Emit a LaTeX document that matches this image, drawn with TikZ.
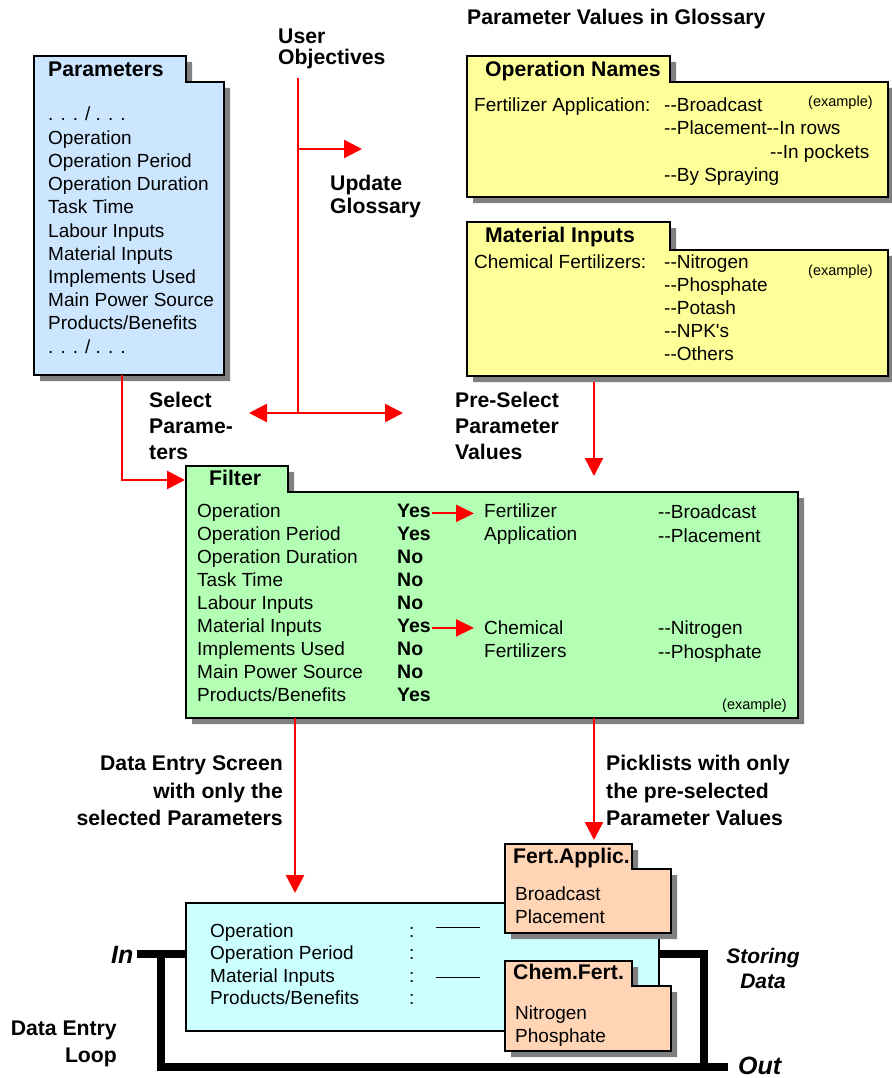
\documentclass[tikz,border=0pt]{standalone}
\usepackage{fontspec}
\setmainfont{Liberation Sans}
\usetikzlibrary{arrows.meta,calc}

\definecolor{parblue}{HTML}{CCE6FF}
\definecolor{glossyellow}{HTML}{FFFF99}
\definecolor{filtergreen}{HTML}{B3FFB3}
\definecolor{screencyan}{HTML}{CCFFFF}
\definecolor{pickpeach}{HTML}{FFD5B5}
\definecolor{shadowgray}{HTML}{808080}

\tikzset{
  txt/.style={font=\fontsize{19}{23}\selectfont, inner sep=0pt, anchor=base west},
  btxt/.style={font=\fontsize{21.2}{25}\selectfont\bfseries, inner sep=0pt, anchor=base west},
  ytxt/.style={font=\fontsize{19.5}{23}\selectfont\bfseries, inner sep=0pt, anchor=base west},
  smalltxt/.style={font=\fontsize{14.5}{17}\selectfont, inner sep=0pt, anchor=base west},
  iotxt/.style={font=\fontsize{25}{28}\selectfont\bfseries\itshape, inner sep=0pt, anchor=base west},
  redarrow/.style={draw=red, line width=2.5pt, -{Triangle[length=18pt,width=18pt]}},
  redline/.style={draw=red, line width=2.5pt},
  yesarrow/.style={draw=red, line width=2pt, -{Triangle[length=18pt,width=17pt]}},
  loopline/.style={draw=black, line width=8pt, line join=miter},
}

% double hyphen without the en-dash ligature
\newcommand\dd{-{}-}

% folder card: name, left, tab top, tab right, body top, body right, bottom, fill
\newcommand\foldercard[8]{%
  \fill[shadowgray] (#2+6,#3+6) -- (#4+6,#3+6) -- (#4+6,#5+6) -- (#6+6,#5+6)
     -- (#6+6,#7+6) -- (#2+6,#7+6) -- cycle;
  \filldraw[fill=#8, draw=black, line width=1.3pt] (#2,#3) -- (#4,#3) -- (#4,#5)
     -- (#6,#5) -- (#6,#7) -- (#2,#7) -- cycle;
  \node[inner sep=0pt, minimum width={#6-#2}, minimum height={#7-#3},
        anchor=north west] (#1) at (#2,#3) {};
}

\begin{document}
\begin{tikzpicture}[x=1pt,y=-1pt]
\useasboundingbox (0,0) rectangle (891,1078);

% ---------- connectors drawn first so the cards sit on top ----------
\coordinate (uotop) at (298,78);
\coordinate (uobranch) at (298,149);
\coordinate (uobot) at (298,413);
\coordinate (updtip) at (362,149);
\coordinate (selleft) at (249,413);
\coordinate (preright) at (403,413);
\coordinate (pvtip) at (594,476);
\coordinate (detip) at (295,893);
\coordinate (pltip) at (594,840);

\draw[redline] (uotop) -- (uobot);
\draw[redarrow] (uobranch) -- (updtip);
\draw[draw=red, line width=2.5pt, {Triangle[length=18pt,width=18pt]}-{Triangle[length=18pt,width=18pt]}]
  (selleft) -- (preright);

% ---------- glossary and parameter cards ----------
\foldercard{params}{34}{56}{186}{82}{224}{375}{parblue}
\foldercard{opnames}{467}{56}{670}{82}{888}{197}{glossyellow}
\foldercard{matin}{467}{222}{670}{250}{888}{376}{glossyellow}

\draw[redarrow] ($(params.south west)+(88,0)$) |- (185,480);
\draw[redarrow] ($(matin.south west)+(127,6)$) -- (pvtip);

\foldercard{filter}{186}{466}{288}{492}{798}{718}{filtergreen}

\draw[redarrow] ($(filter.south west)+(109,0)$) -- (detip);
\draw[redarrow] ($(filter.south west)+(408,0)$) -- (pltip);

% ---------- data entry loop ----------
\coordinate (inend) at (137,954);
\coordinate (outend) at (728,1067);
\draw[loopline] (inend) -- (186,954);
\draw[loopline] (161,954) |- (outend);
\draw[loopline] (657,954) -| (704,1067);

\node[draw=black, line width=2pt, fill=screencyan, inner sep=0pt, minimum width=473,
      minimum height=128, anchor=north west] (screen) at (185,902) {};

\foldercard{fert}{505}{844}{632}{869}{671}{933}{pickpeach}
\foldercard{chem}{505}{961}{632}{986}{671}{1051}{pickpeach}

% ---------- headings ----------
\node[btxt] (glosshead) at (467,25) {Parameter Values in Glossary};
\node[btxt] (uo1) at (278,44) {User};
\node[btxt] (uo2) at (278,65) {Objectives};
\node[btxt] (ug1) at (330,190) {Update};
\node[btxt] (ug2) at (330,213) {Glossary};
\node[btxt] (sp1) at (149,407) {Select};
\node[btxt] (sp2) at (149,433) {Parame-};
\node[btxt] (sp3) at (149,459) {ters};
\node[btxt] (pv1) at (455,407) {Pre-Select};
\node[btxt] (pv2) at (455,433) {Parameter};
\node[btxt] (pv3) at (455,459) {Values};
\node[btxt, anchor=base east] (de1) at (283,770) {Data Entry Screen};
\node[btxt, anchor=base east] (de2) at (283,798) {with only the};
\node[btxt, anchor=base east] (de3) at (283,825) {selected Parameters};
\node[btxt] (pk1) at (606,770) {Picklists with only};
\node[btxt] (pk2) at (606,798) {the pre-selected};
\node[btxt] (pk3) at (606,825) {Parameter Values};
\node[btxt, anchor=base east] (lp1) at (117,1035) {Data Entry};
\node[btxt, anchor=base east] (lp2) at (117,1062) {Loop};
\node[btxt, font=\fontsize{21}{25}\selectfont\bfseries\itshape, anchor=base] (sd1) at (763,963) {Storing};
\node[btxt, font=\fontsize{21}{25}\selectfont\bfseries\itshape, anchor=base] (sd2) at (763,988) {Data};
\node[iotxt] (intxt) at (111,963) {In};
\node[iotxt] (outtxt) at (738,1074) {Out};

% ---------- Parameters card ----------
\node[btxt] (partitle) at (48,77) {Parameters};
\foreach \t [count=\i from 0] in {{. . . / . . .},Operation,Operation Period,
    Operation Duration,Task Time,Labour Inputs,Material Inputs,Implements Used,
    Main Power Source,{Products/Benefits},{. . . / . . .}}
  \node[txt] (par\i) at (48,121+23.2*\i) {\t};

% ---------- Operation Names card ----------
\node[btxt] (optitle) at (485,77) {Operation Names};
\node[txt] (opfa) at (474,112) {Fertilizer Application:};
\node[txt] (opbc) at (664,112) {\dd Broadcast};
\node[smalltxt] (opex) at (808,107) {(example)};
\node[txt] (oppl) at (664,135) {\dd Placement\dd In rows};
\node[txt] (oppk) at (770,159) {\dd In pockets};
\node[txt] (opsp) at (664,182) {\dd By Spraying};

% ---------- Material Inputs card ----------
\node[btxt] (mititle) at (485,242) {Material Inputs};
\node[txt] (micf) at (474,268) {Chemical Fertilizers:};
\node[smalltxt] (miex) at (808,275) {(example)};
\foreach \t [count=\i from 0] in {Nitrogen,Phosphate,Potash,NPK\textquotesingle s,Others}
  \node[txt] (mi\i) at (664,268+23*\i) {\dd\t};

% ---------- Filter card ----------
\node[btxt] (fititle) at (209,485) {Filter};
\foreach \t/\v [count=\i from 0] in {Operation/Yes,{Operation Period}/Yes,
    {Operation Duration}/No,{Task Time}/No,{Labour Inputs}/No,{Material Inputs}/Yes,
    {Implements Used}/No,{Main Power Source}/No,{Products/Benefits}/Yes}
  {\node[txt] (fr\i) at (197,517+23.1*\i) {\t};
   \node[ytxt] (fv\i) at (397,517+23.1*\i) {\v};}
\node[txt] (ff1) at (484,517) {Fertilizer};
\node[txt] (ff2) at (484,540) {Application};
\node[txt] (fb1) at (658,518) {\dd Broadcast};
\node[txt] (fb2) at (658,542) {\dd Placement};
\node[txt] (fc1) at (484,634) {Chemical};
\node[txt] (fc2) at (484,657) {Fertilizers};
\node[txt] (fn1) at (658,634) {\dd Nitrogen};
\node[txt] (fn2) at (658,658) {\dd Phosphate};
\node[smalltxt] (fiex) at (722,709) {(example)};
\coordinate (ya1) at ($(fv0.east)+(1,3)$);
\coordinate (yb1) at ($(ff1.west)+(-10,0)$);
\coordinate (ya2) at ($(fv5.east)+(1,2)$);
\coordinate (yb2) at ($(fc1.west)+(-10,0)$);
\draw[yesarrow] (ya1) -- (ya1 -| yb1);
\draw[yesarrow] (ya2) -- (ya2 -| yb2);

% ---------- data entry screen ----------
\foreach \t [count=\i from 0] in {Operation,Operation Period,Material Inputs,{Products/Benefits}}
  {\node[txt] (sc\i) at (210,937+22.6*\i) {\t};
   \node[txt] (scc\i) at (409,937+22.6*\i) {:};}
\draw[line width=1pt] ($(scc0.east)+(21,-4)$) -- ++(44,0);
\draw[line width=1pt] ($(scc2.east)+(21,0)$) -- ++(44,0);

% ---------- picklists ----------
\node[btxt] (fatitle) at (513,863) {Fert.Applic.};
\node[txt] (fa1) at (515,900) {Broadcast};
\node[txt] (fa2) at (515,923) {Placement};
\node[btxt] (cftitle) at (513,979) {Chem.Fert.};
\node[txt] (cf1) at (515,1019) {Nitrogen};
\node[txt] (cf2) at (515,1042) {Phosphate};
\end{tikzpicture}
\end{document}
